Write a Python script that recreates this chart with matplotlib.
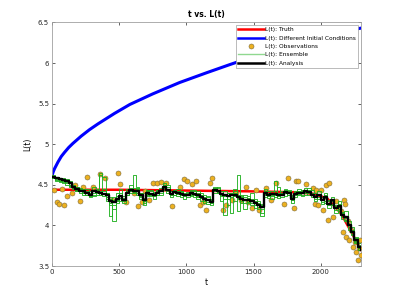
import matplotlib
matplotlib.use("Agg")
import matplotlib.pyplot as plt

# Truth
t_truth = [0, 500, 1000, 1500, 1800, 1950, 2050, 2150, 2200, 2250, 2300]
L_truth = [4.44, 4.44, 4.43, 4.42, 4.41, 4.39, 4.33, 4.15, 4.00, 3.85, 3.70]

# Different initial conditions
t_blue = [0, 10, 20, 45, 70, 94, 125, 156, 218, 280, 342, 466, 580, 750, 950, 1150, 1322, 1500, 1700, 1900, 2100, 2236, 2300]
L_blue = [4.61, 4.66, 4.70, 4.78, 4.85, 4.90, 4.96, 5.01, 5.10, 5.18, 5.25, 5.38, 5.49, 5.62, 5.76, 5.88, 5.98, 6.08, 6.18, 6.27, 6.36, 6.41, 6.43]

# Observations
t_obs = [15, 35, 55, 74, 92, 109, 149, 171, 208, 228, 265, 307, 357, 394, 446, 493, 510, 550,
         614, 644, 669, 693, 723, 753, 783, 815, 852, 892, 951, 981, 1005, 1040, 1075, 1100,
         1124, 1149, 1179, 1194, 1273, 1298, 1342, 1367, 1409, 1441, 1461, 1491, 1516, 1540,
         1595, 1629, 1669, 1728, 1758, 1803, 1813, 1833, 1892, 1941, 1954, 1966, 1983, 2000,
         2017, 2041, 2056, 2061, 2090, 2110, 2130, 2150, 2164, 2174, 2179, 2189, 2200, 2213,
         2225, 2243, 2255, 2263, 2277, 2285, 2292, 2302]
L_obs = [4.44, 4.29, 4.27, 4.45, 4.25, 4.36, 4.40, 4.50, 4.30, 4.48, 4.60, 4.47, 4.63, 4.59, 4.31, 4.65, 4.51, 4.29,
         4.40, 4.24, 4.29, 4.43, 4.31, 4.52, 4.52, 4.54, 4.52, 4.24, 4.48, 4.57, 4.55, 4.51, 4.55, 4.25,
         4.29, 4.19, 4.52, 4.58, 4.19, 4.25, 4.31, 4.40, 4.32, 4.48, 4.29, 4.21, 4.44, 4.19,
         4.46, 4.31, 4.52, 4.27, 4.59, 4.22, 4.55, 4.55, 4.51, 4.46, 4.27, 4.44, 4.25, 4.44,
         4.19, 4.50, 4.07, 4.52, 4.10, 4.30, 4.22, 4.18, 3.92, 4.31, 4.26, 3.86, 4.05, 3.82,
         3.95, 3.74, 3.80, 3.67, 3.57, 3.72, 3.82, 3.64]

# Ensemble members and analysis on a common time grid (every 25 time units)
t_ens = list(range(0, 2301, 25))
L_ana = [4.60, 4.58, 4.57, 4.56, 4.55, 4.52, 4.48, 4.45, 4.43, 4.42,
         4.40, 4.38, 4.42, 4.41, 4.40, 4.39, 4.37, 4.30, 4.29, 4.33,
         4.36, 4.31, 4.40, 4.44, 4.43, 4.43, 4.37, 4.31, 4.40, 4.39,
         4.37, 4.40, 4.42, 4.48, 4.44, 4.39, 4.41, 4.40, 4.39, 4.37,
         4.38, 4.40, 4.39, 4.37, 4.35, 4.33, 4.31, 4.29, 4.44, 4.43,
         4.39, 4.37, 4.36, 4.38, 4.38, 4.35, 4.33, 4.32, 4.31, 4.30,
         4.28, 4.25, 4.23, 4.40, 4.38, 4.39, 4.39, 4.38, 4.38, 4.41,
         4.40, 4.33, 4.39, 4.40, 4.40, 4.42, 4.41, 4.38, 4.35, 4.37,
         4.31, 4.35, 4.27, 4.31, 4.21, 4.24, 4.13, 4.10, 4.00, 3.92,
         3.82, 3.74, 3.70]
ens1 = [4.61, 4.57, 4.55, 4.52, 4.50, 4.47, 4.50, 4.44, 4.46, 4.40,
        4.45, 4.35, 4.47, 4.44, 4.62, 4.60, 4.40, 4.25, 4.06, 4.30,
        4.45, 4.33, 4.45, 4.50, 4.46, 4.40, 4.33, 4.28, 4.44, 4.36,
        4.40, 4.44, 4.38, 4.52, 4.47, 4.35, 4.44, 4.42, 4.35, 4.40,
        4.35, 4.44, 4.42, 4.33, 4.40, 4.28, 4.35, 4.25, 4.48, 4.46,
        4.30, 4.42, 4.25, 4.40, 4.45, 4.18, 4.38, 4.35, 4.28, 4.40,
        4.22, 4.30, 4.15, 4.45, 4.34, 4.42, 4.35, 4.48, 4.40, 4.44,
        4.37, 4.28, 4.43, 4.45, 4.36, 4.46, 4.38, 4.44, 4.30, 4.42,
        4.26, 4.40, 4.22, 4.35, 4.15, 4.30, 4.08, 4.18, 3.94, 3.98,
        3.86, 3.70, 3.66]
ens2 = [4.58, 4.60, 4.53, 4.58, 4.52, 4.55, 4.45, 4.48, 4.40, 4.45,
        4.37, 4.42, 4.38, 4.45, 4.65, 4.42, 4.33, 4.35, 4.20, 4.40,
        4.30, 4.36, 4.37, 4.40, 4.62, 4.48, 4.40, 4.25, 4.36, 4.44,
        4.33, 4.42, 4.46, 4.44, 4.50, 4.42, 4.37, 4.45, 4.42, 4.33,
        4.41, 4.36, 4.44, 4.40, 4.30, 4.38, 4.26, 4.33, 4.40, 4.48,
        4.36, 4.33, 4.40, 4.15, 4.42, 4.62, 4.28, 4.38, 4.36, 4.25,
        4.33, 4.20, 4.12, 4.35, 4.42, 4.33, 4.55, 4.34, 4.43, 4.36,
        4.44, 4.38, 4.35, 4.42, 4.44, 4.38, 4.46, 4.35, 4.40, 4.33,
        4.35, 4.30, 4.32, 4.26, 4.25, 4.18, 4.17, 4.05, 4.05, 3.88,
        3.78, 3.78, 3.64]
ens3 = [4.60, 4.55, 4.58, 4.54, 4.57, 4.49, 4.47, 4.42, 4.44, 4.38,
        4.42, 4.40, 4.36, 4.38, 4.37, 4.45, 4.30, 4.12, 4.35, 4.28,
        4.38, 4.28, 4.42, 4.46, 4.40, 4.45, 4.40, 4.34, 4.38, 4.42,
        4.41, 4.37, 4.44, 4.46, 4.40, 4.43, 4.44, 4.36, 4.43, 4.39,
        4.40, 4.38, 4.35, 4.42, 4.38, 4.30, 4.36, 4.32, 4.42, 4.40,
        4.42, 4.13, 4.40, 4.35, 4.30, 4.38, 4.36, 4.28, 4.34, 4.33,
        4.30, 4.28, 4.26, 4.37, 4.40, 4.36, 4.42, 4.40, 4.35, 4.45,
        4.42, 4.36, 4.41, 4.38, 4.43, 4.40, 4.44, 4.40, 4.37, 4.35,
        4.33, 4.28, 4.30, 4.25, 4.24, 4.20, 4.15, 4.07, 3.98, 3.95,
        3.80, 3.72, 3.73]
ens4 = [4.62, 4.56, 4.56, 4.57, 4.53, 4.50, 4.46, 4.47, 4.42, 4.44,
        4.38, 4.36, 4.44, 4.40, 4.43, 4.36, 4.40, 4.33, 4.25, 4.36,
        4.40, 4.30, 4.38, 4.42, 4.44, 4.38, 4.35, 4.30, 4.42, 4.37,
        4.36, 4.41, 4.40, 4.50, 4.42, 4.40, 4.38, 4.42, 4.38, 4.36,
        4.37, 4.42, 4.37, 4.35, 4.37, 4.35, 4.29, 4.28, 4.46, 4.41,
        4.40, 4.36, 4.33, 4.40, 4.36, 4.33, 4.30, 4.20, 4.33, 4.28,
        4.25, 4.27, 4.20, 4.42, 4.36, 4.40, 4.38, 4.36, 4.40, 4.40,
        4.38, 4.35, 4.37, 4.42, 4.38, 4.44, 4.40, 4.37, 4.33, 4.39,
        4.29, 4.37, 4.25, 4.33, 4.19, 4.26, 4.11, 4.12, 4.02, 3.90,
        3.84, 3.76, 3.68]
ens5 = [4.59, 4.59, 4.55, 4.55, 4.56, 4.53, 4.49, 4.43, 4.45, 4.41,
        4.41, 4.39, 4.40, 4.43, 4.38, 4.40, 4.35, 4.28, 4.32, 4.31,
        4.34, 4.34, 4.41, 4.43, 4.41, 4.46, 4.36, 4.33, 4.39, 4.40,
        4.39, 4.38, 4.43, 4.47, 4.45, 4.37, 4.42, 4.39, 4.41, 4.38,
        4.39, 4.39, 4.40, 4.36, 4.34, 4.34, 4.33, 4.30, 4.43, 4.44,
        4.38, 4.39, 4.38, 4.37, 4.40, 4.34, 4.35, 4.33, 4.29, 4.32,
        4.29, 4.23, 4.25, 4.39, 4.38, 4.38, 4.40, 4.39, 4.37, 4.42,
        4.41, 4.32, 4.40, 4.39, 4.41, 4.41, 4.42, 4.39, 4.36, 4.38,
        4.32, 4.34, 4.28, 4.30, 4.22, 4.23, 4.14, 4.09, 4.01, 3.93,
        3.81, 3.73, 3.71]
ensembles = [ens1, ens2, ens3, ens4, ens5]

x_ticks = [0, 500, 1000, 1500, 2000]
y_ticks = [3.5, 4, 4.5, 5, 5.5, 6, 6.5]
y_ticklabels = ['3.5', '4', '4.5', '5', '5.5', '6', '6.5']

fig = plt.figure(figsize=(3.99, 2.99), dpi=100)
ax = fig.add_axes([0.13, 0.11, 0.775, 0.815])

ax.plot(t_truth, L_truth, color='red', lw=1.8, label='L(t): Truth', zorder=2)
ax.plot(t_blue, L_blue, color='blue', lw=2.2, label='L(t): Different Initial Conditions', zorder=2)
ax.plot(t_obs, L_obs, 'o', ms=3.6, mfc='#EDB120', mec='#7a6a40', mew=0.4, ls='none',
        label='L(t): Observations', zorder=3)
for i, e in enumerate(ensembles):
    ax.plot(t_ens, e, color='#1fb01f', lw=0.7, alpha=0.9, drawstyle='steps-post',
            label='L(t): Ensemble' if i == 0 else None, zorder=4)
ax.plot(t_ens, L_ana, color='black', lw=1.7, drawstyle='steps-post', label='L(t): Analysis', zorder=5)

ax.set_xlim(0, 2300)
ax.set_ylim(3.5, 6.5)
ax.set_xticks(x_ticks)
ax.set_xticklabels([str(v) for v in x_ticks])
ax.set_yticks(y_ticks)
ax.set_yticklabels(y_ticklabels)
ax.tick_params(direction='in', length=2.5, width=0.5, labelsize=5, colors='#262626',
               top=True, right=True, pad=2)
for s in ax.spines.values():
    s.set_color('#a0a0a0')
    s.set_linewidth(0.6)
ax.set_xlabel('t', fontsize=5.5, labelpad=2)
ax.set_ylabel('L(t)', fontsize=5.5, labelpad=4)
ax.set_title('t vs. L(t)', fontsize=5.5, fontweight='bold', pad=4)

leg = ax.legend(loc='upper right', fontsize=4.2, frameon=True, fancybox=False,
                edgecolor='#a0a0a0', framealpha=1, handlelength=4.4, handletextpad=0.3,
                borderpad=0.4, labelspacing=0.55, borderaxespad=0.45)
leg.get_frame().set_linewidth(0.5)
for h in leg.legend_handles:
    if h.get_label() == 'L(t): Ensemble':
        h.set_color('#90d890')
        h.set_alpha(1)
        h.set_linewidth(1.0)
    if h.get_label() in ('L(t): Truth', 'L(t): Different Initial Conditions', 'L(t): Analysis'):
        h.set_linewidth(1.8)

fig.savefig('out.png', dpi=100)
